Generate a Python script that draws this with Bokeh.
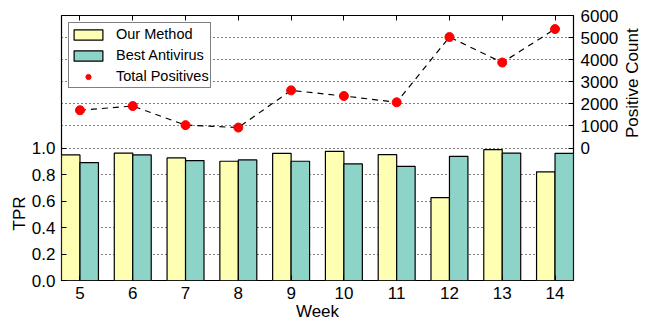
import math
from bokeh.plotting import figure
from bokeh.layouts import row
from bokeh.models import (ColumnDataSource, Range1d, LinearAxis, FixedTicker, Grid,
                          Legend, LegendItem, PrintfTickFormatter, Label, Title)
from bokeh.transform import dodge
from bokeh.embed import file_html
from bokeh.resources import INLINE

weeks = [5, 6, 7, 8, 9, 10, 11, 12, 13, 14]
our_method = [0.948, 0.962, 0.925, 0.900, 0.960, 0.975, 0.950, 0.625, 0.987, 0.820]
best_antivirus = [0.890, 0.948, 0.905, 0.910, 0.900, 0.880, 0.862, 0.937, 0.962, 0.960]
total_positives = [1710, 1900, 1035, 925, 2610, 2355, 2070, 5025, 3870, 5385]
tpr_ticks = [0.0, 0.2, 0.4, 0.6, 0.8, 1.0]
count_ticks = [0, 1000, 2000, 3000, 4000, 5000, 6000]

FONT = "Liberation Sans"
TICK_SIZE = "17px"
W, H, SIDE_W = 647, 323, 26

src = ColumnDataSource(dict(week=weeks, ours=our_method, av=best_antivirus, pos=total_positives))

p = figure(width=W - SIDE_W, height=H, output_backend="svg", toolbar_location=None,
           x_range=Range1d(4.65, 14.35), y_range=Range1d(0, 2.0),
           min_border_left=61, min_border_right=47, min_border_top=15, min_border_bottom=41)
p.extra_y_ranges = {"count": Range1d(-6000, 6000)}
p.outline_line_color = "black"
p.outline_line_width = 1.2
p.background_fill_color = "white"
p.border_fill_color = "white"


def style_axis(ax):
    ax.major_tick_in = 5
    ax.major_tick_out = 0
    ax.minor_tick_in = 0
    ax.minor_tick_out = 0
    ax.major_tick_line_color = "black"
    ax.axis_line_color = None
    ax.major_label_text_font = FONT
    ax.major_label_text_font_size = TICK_SIZE
    ax.major_label_text_color = "black"
    ax.axis_label_text_font = FONT
    ax.axis_label_text_font_size = TICK_SIZE
    ax.axis_label_text_font_style = "normal"
    ax.axis_label_text_color = "black"


# grids
p.xgrid.visible = False
p.ygrid.ticker = FixedTicker(ticks=tpr_ticks[1:])
p.ygrid.grid_line_color = "black"
p.ygrid.grid_line_dash = "1 3"
p.ygrid.grid_line_width = 1
cgrid = Grid(dimension=1, y_range_name="count", ticker=FixedTicker(ticks=count_ticks[1:-1]),
             grid_line_color="black", grid_line_dash="1 3", grid_line_width=1)
p.add_layout(cgrid)

# bars
r1 = p.vbar(x=dodge("week", -0.175, range=p.x_range), top="ours", width=0.35, source=src,
            fill_color="#ffffb3", line_color="black", line_width=1.2)
r2 = p.vbar(x=dodge("week", 0.175, range=p.x_range), top="av", width=0.35, source=src,
            fill_color="#8dd3c7", line_color="black", line_width=1.2)
p.line("week", "pos", source=src, y_range_name="count", line_color="black",
       line_dash="6 5", line_width=1.2)
r3 = p.scatter("week", "pos", source=src, y_range_name="count", size=9,
               fill_color="red", line_color="red")

# axes
left = p.yaxis[0]
style_axis(left)
left.ticker = FixedTicker(ticks=tpr_ticks)
left.formatter = PrintfTickFormatter(format="%.1f")
left.major_label_standoff = 6

tpr_title = Title(text="TPR", align="left", offset=50, text_font=FONT,
                  text_font_size=TICK_SIZE, text_font_style="normal", text_color="black",
                  standoff=0)
p.add_layout(tpr_title, "left")

bottom = p.xaxis[0]
style_axis(bottom)
bottom.ticker = FixedTicker(ticks=weeks)
bottom.axis_label = "Week"
bottom.major_label_standoff = 6
bottom.axis_label_standoff = 0

top = LinearAxis(ticker=FixedTicker(ticks=weeks),
                 major_label_overrides={w: "" for w in weeks})
style_axis(top)
top.major_label_standoff = 0
p.add_layout(top, "above")

right = LinearAxis(y_range_name="count", ticker=FixedTicker(ticks=count_ticks),
                   bounds=(0, 6000))
style_axis(right)
right.major_label_standoff = 7
p.add_layout(right, "right")

legend = Legend(items=[LegendItem(label="Our Method", renderers=[r1]),
                       LegendItem(label="Best Antivirus", renderers=[r2]),
                       LegendItem(label="Total Positives", renderers=[r3])],
                location="top_left", margin=7, padding=1, spacing=1,
                glyph_width=36, glyph_height=13, label_height=20, label_standoff=10,
                label_text_font=FONT, label_text_font_size="14.5px", label_text_color="black",
                border_line_color="black", border_line_width=1.2,
                background_fill_color="white", background_fill_alpha=1.0)
p.add_layout(legend)

# narrow strip on the right carrying the right-hand axis title (reads bottom-to-top)
side = figure(width=SIDE_W, height=H, output_backend="svg", toolbar_location=None,
              x_range=Range1d(0, SIDE_W), y_range=Range1d(0, H),
              min_border=0, x_axis_location=None, y_axis_location=None)
side.grid.visible = False
side.outline_line_color = None
side.background_fill_color = "white"
side.border_fill_color = "white"
side.add_layout(Label(x=11, y=H - 82.5, text="Positive Count", angle=math.pi / 2,
                      angle_units="rad", text_align="center", text_baseline="middle",
                      text_font=FONT, text_font_size=TICK_SIZE, text_color="black"))

layout = row(p, side, spacing=0)
open("out.html", "w").write(file_html(layout, INLINE))
